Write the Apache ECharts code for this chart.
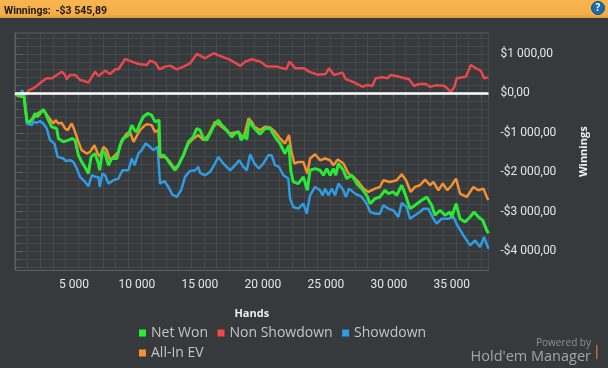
<!DOCTYPE html>
<html>
<head>
<meta charset="utf-8">
<style>html,body{margin:0;padding:0;background:#373a3d}#box1{width:608px;height:368px}</style>
<script src="https://cdn.jsdelivr.net/npm/echarts@6/dist/echarts.min.js"></script>
</head>
<body>
<div id="box1"></div>
<script>
// values: hands / dollars for each line
var netWonHands = [0,240,560,740,800,950,1110,1325,1590,1775,1990,2250,2440,2650,2915,3310,3445,3840,4240,4560,4770,5035,5300,5620,5830,6040,6360,6625,6730,6940,7155,7420,7685,8080,8350,8610,9010,9275,9490,9660,9925,10190,10535,10850,11120,11435,11515,11780,12045,12310,12710,12975,13370,13770,14165,14430,14695,14960,15225,15490,15755,16150,16420,16815,17210,17480,17745,17955,18270,18405,18590,18800,19015,19455,19850,20250,20645,21045,21440,21760,21890,22100,22500,22900,23215,23430,23825,24225,24490,24755,25020,25285,25470,25680,26080,26340,26740,27140,27535,27930,28200,28585,28980,29380,29645,30040,30310,30705,30970,31367,31765,32295,32690,33090,33355,33750,34150,34545,34680,35025,35340,35740,36135,36455,36800,37145,37460,37600];
var netWon = [0,-50,-70,-100,-330,-680,-740,-678,-509,-594,-509,-407,-509,-678,-848,-890,-1144,-1229,-1187,-1144,-1187,-1568,-1737,-1906,-2034,-1610,-1525,-1779,-1949,-1441,-1525,-1822,-1652,-1652,-1314,-1144,-1059,-805,-932,-975,-763,-594,-509,-551,-721,-678,-1567,-1567,-1652,-1779,-1949,-1822,-1567,-1229,-1102,-890,-932,-1144,-1186,-1017,-848,-678,-805,-932,-1102,-1017,-975,-1186,-1017,-1169,-678,-805,-890,-1034,-890,-890,-1102,-1271,-1525,-1313,-1949,-2245,-2287,-2118,-2457,-1949,-1906,-1949,-2075,-1906,-2075,-1906,-2075,-1779,-1949,-2160,-2075,-2287,-2414,-2584,-2796,-2668,-2626,-2456,-2541,-2499,-2583,-2329,-2541,-2922,-2837,-2710,-2626,-2837,-3091,-2964,-3091,-3007,-3134,-2795,-3176,-3261,-3134,-3007,-3134,-3219,-3473,-3545];

var allInHands = [0,240,740,800,950,1110,1460,1800,2250,2650,3050,3230,3445,3710,3975,4190,4505,4720,5035,5300,5700,5960,6305,6570,6760,7020,7290,7550,7950,8215,8480,8880,9140,9410,9528,9925,10190,10455,10850,11120,11380,11515,11915,12310,12655,12975,13370,13770,14165,14560,14960,15360,15885,16420,17080,17745,18140,18540,18800,19015,19455,19850,20250,20645,21045,21440,21760,21920,22185,22500,22900,23215,23430,23825,24225,24620,25020,25285,25630,26080,26475,26875,27270,27670,28065,28585,28980,29250,29777,30307,30705,31050,31420,31765,32160,32560,32957,33222,33620,33965,34335,34680,35025,35340,35870,36400,36800,37200,37520,37600];
var allIn = [0,-50,-100,-330,-680,-720,-636,-509,-424,-600,-763,-678,-763,-746,-890,-932,-763,-932,-1229,-1441,-1525,-1483,-1314,-1525,-1610,-1356,-1441,-1695,-1568,-1483,-1187,-1017,-975,-1229,-1271,-932,-848,-780,-805,-975,-932,-1610,-1610,-1737,-1906,-1822,-1567,-1271,-1144,-1059,-1186,-1059,-720,-848,-1017,-975,-1144,-636,-720,-848,-932,-847,-864,-974,-1144,-1271,-1059,-1440,-1779,-1737,-1737,-2033,-1652,-1542,-1694,-1652,-1694,-1821,-1677,-1779,-2033,-2118,-2245,-2414,-2499,-2414,-2372,-2202,-2245,-2202,-2050,-2202,-2499,-2372,-2329,-2185,-2329,-2245,-2456,-2287,-2456,-2329,-2160,-2541,-2626,-2372,-2456,-2414,-2668,-2700];

var showdownHands = [0,240,480,560,660,800,930,1325,1460,1720,1990,2250,2520,2780,3130,3390,3840,4030,4370,4640,4900,5170,5565,5830,6095,6410,6625,6730,6940,7155,7420,7820,8215,8530,9010,9275,9490,9795,10060,10375,10720,10985,11330,11515,11860,12180,12495,12840,13185,13500,13900,14300,14560,14695,15090,15490,15885,16150,16550,17080,17480,17795,18140,18405,18670,19015,19375,19718,20115,20380,20645,20965,21310,21706,21840,22100,22500,22900,23165,23430,23825,24225,24435,24620,24885,25150,25415,25680,26080,26265,26530,27005,27535,27930,28200,28585,28980,29250,29645,30040,30440,30705,31100,31367,31765,32160,32427,32825,33222,33487,33885,34415,34812,35130,35607,36137,36535,36932,37250,37600];
var showdown = [0,-30,-10,80,0,-300,-763,-805,-721,-746,-704,-763,-890,-1187,-1271,-1610,-1652,-1712,-1695,-1737,-1906,-2118,-2245,-2355,-2076,-2118,-2118,-2372,-2034,-2076,-2288,-2203,-2160,-1949,-1949,-1652,-1822,-1525,-1440,-1271,-1356,-1440,-1356,-2288,-2220,-2372,-2567,-2626,-2457,-2118,-1966,-1949,-1864,-2016,-2076,-1991,-1779,-1610,-1779,-1949,-1822,-1695,-1864,-1949,-1542,-1779,-1906,-1779,-1567,-1567,-1821,-1864,-2075,-2160,-2668,-2880,-2922,-2796,-3050,-2584,-2372,-2457,-2584,-2414,-2584,-2414,-2584,-2287,-2457,-2626,-2414,-2541,-2626,-2796,-3007,-3049,-3049,-2837,-2922,-2965,-3134,-2778,-2880,-3176,-3091,-3007,-2922,-2922,-3176,-3303,-3176,-3176,-3134,-3346,-3600,-3854,-3727,-3896,-3642,-3939];

var nonShowdownHands = [0,400,800,1060,1590,2120,2515,2915,3450,3710,3975,4110,4370,4770,5170,5430,5830,6360,6630,7155,7550,7950,8215,8745,9275,9810,10470,10735,11130,11470,11925,12320,12850,13380,13910,14440,15100,15770,16430,17090,17885,18280,18810,19470,20000,20800,21540,21800,22250,22947,23345,24007,24670,24935,25332,26000,26260,26920,27585,27980,28380,28645,29175,29570,29835,30500,31295,31692,32090,32620,32965,33415,34077,34607,34872,35085,35800,36197,36595,36992,37257,37600];
var nonShowdown = [-40,-85,-42,68,152,296,381,381,491,550,466,356,466,466,339,322,271,550,440,576,491,610,610,872,805,745,720,830,779,610,678,703,610,678,762,999,889,1016,932,847,695,805,864,805,678,678,610,805,635,635,550,474,491,635,466,525,364,280,169,212,186,381,406,381,466,423,356,186,237,237,169,203,195,42,152,381,423,720,635,576,381,406];

var xMajorTicks = 5000, xMinorTicks = 1000;
var yMajorValues = [-4000, -3000, -2000, -1000, 0, 1000];
var yMinorValues = [-4400,-4200,-4000,-3800,-3600,-3400,-3200,-3000,-2800,-2600,-2400,-2200,-2000,-1800,-1600,-1400,-1200,-1000,-800,-600,-400,-200,0,200,400,600,800,1000,1200,1400];
var xMax = 37600, yMin = -4490, yMax = 1530;

function pairs(hands, values) {
  return hands.map(function(h, i) {
    return [h, values[i]];
  });
}
function spaced(v) {
  return String(Math.abs(v)).replace(/\B(?=(\d{3})+$)/g, ' ');
}

var chart = echarts.init(document.getElementById('box1'));
var font = '"Open Sans", "Noto Sans", sans-serif';
var narrow = 'Roboto, "Open Sans", sans-serif';
var legendText = { color: '#c4c5c6', fontSize: 14, fontFamily: font };

var option = {
  backgroundColor: '#373a3d',
  animation: false,
  textStyle: { fontFamily: font },
  title: {
    left: 4,
    top: 2,
    padding: 0,
    text: '{a|Winnings:} {b|-$3 545,89}',
    textStyle: {
      rich: {
        a: { fontFamily: narrow, fontSize: 10.5, color: '#1d1a14' },
        b: { fontFamily: narrow, fontSize: 10.5, fontWeight: 'bold', color: '#1d1a14' }
      }
    }
  },
  graphic: [
    { type: 'rect', z: -1, shape: { x: 0, y: 0, width: 608, height: 18 },
      style: { fill: new echarts.graphic.LinearGradient(0, 0, 0, 1, [
        { offset: 0, color: '#f7b550' }, { offset: 0.8, color: '#f4ae48' }, { offset: 1, color: '#d8983f' }]) } },
    { type: 'circle', shape: { cx: 598, cy: 8, r: 6.5 }, style: { fill: '#1b6cb0', stroke: '#0d4c86', lineWidth: 1 } },
    { type: 'text', x: 598, y: 8, style: { text: '?', fill: '#fff', font: 'bold 10px ' + font, align: 'center', verticalAlign: 'middle' } },
    { type: 'text', x: 591, y: 343, style: { text: 'Powered by', fill: '#8f9193', font: '10px ' + font, align: 'right', verticalAlign: 'middle' } },
    { type: 'text', x: 591, y: 357, style: { text: "Hold'em Manager", fill: '#a3a5a7', font: '14.5px ' + font, align: 'right', verticalAlign: 'middle' } },
    { type: 'rect', shape: { x: 596, y: 345, width: 1.5, height: 14 }, style: { fill: '#c2683a' } }
  ],
  legend: [{
    data: ['Net Won', 'Non Showdown', 'Showdown'],
    left: 139, top: 326, padding: 0,
    itemWidth: 7, itemHeight: 7, itemGap: 9.5,
    icon: 'rect', textStyle: legendText
  }, {
    data: ['All-In EV'],
    left: 139, top: 346, padding: 0,
    itemWidth: 7, itemHeight: 7,
    icon: 'rect', textStyle: legendText
  }],
  grid: {
    left: 15, right: 119.5, top: 33, bottom: 97.5,
    show: true,
    borderColor: '#5c5f62',
    borderWidth: 1
  },
  xAxis: [{
    type: 'value', min: 0, max: xMax, interval: xMajorTicks,
    name: 'Hands', nameLocation: 'middle', nameGap: 38,
    nameTextStyle: { color: '#eeeeee', fontWeight: 'bold', fontSize: 11, fontFamily: font },
    axisLine: { lineStyle: { color: '#5c5f62', width: 1 } },
    axisTick: { show: false },
    splitLine: { show: true, lineStyle: { color: '#5c5f62', width: 1 } },
    axisLabel: {
      color: '#e4e4e4', fontSize: 12, margin: 8, fontFamily: narrow,
      padding: [0, 8, 0, 0],
      showMinLabel: false, showMaxLabel: false,
      formatter: function(v) { return v % xMajorTicks === 0 && v > 0 ? spaced(v) : ''; }
    }
  }, {
    type: 'value', min: 0, max: xMax, interval: xMinorTicks, position: 'bottom',
    axisLine: { show: false },
    axisLabel: { show: false },
    axisTick: { show: true, length: 4, lineStyle: { color: '#5c5f62' } },
    splitLine: { show: true, lineStyle: { color: '#46494c', width: 1 } }
  }],
  yAxis: [{
    type: 'value', min: yMin, max: yMax, position: 'right',
    name: 'Winnings', nameLocation: 'middle', nameGap: 90, nameRotate: 90,
    nameTextStyle: { color: '#eeeeee', fontWeight: 'bold', fontSize: 11, fontFamily: font },
    axisLine: { show: true, lineStyle: { color: '#5c5f62', width: 1 } },
    axisTick: { show: true, length: 8, customValues: yMajorValues, lineStyle: { color: '#5c5f62' } },
    splitLine: { show: true, lineStyle: { color: '#505356', width: 1 } },
    axisLabel: {
      color: '#e4e4e4', fontSize: 12, margin: 12, align: 'left', fontFamily: narrow,
      padding: [0, 0, 3, 0],
      customValues: yMajorValues,
      formatter: function(v) {
        return (v < 0 ? '-$' : '$') + spaced(v) + ',00';
      }
    }
  }, {
    type: 'value', min: yMin, max: yMax, position: 'right',
    axisLine: { show: false },
    axisLabel: { show: false },
    axisTick: { show: true, length: 4, customValues: yMinorValues, lineStyle: { color: '#5c5f62' } },
    splitLine: { show: true, lineStyle: { color: '#46494c', width: 1 } }
  }],
  series: [{
    name: 'Non Showdown', type: 'line', showSymbol: false, symbol: 'rect',
    lineStyle: { width: 2.5, color: '#e8484c' }, itemStyle: { color: '#f5494d' },
    data: pairs(nonShowdownHands, nonShowdown),
    markLine: {
      silent: true, symbol: 'none', label: { show: false },
      lineStyle: { color: '#ffffff', width: 2.5, type: 'solid' },
      data: [{ yAxis: 0 }]
    }
  }, {
    name: 'Showdown', type: 'line', showSymbol: false, symbol: 'rect',
    lineStyle: { width: 2.5, color: '#2f9be0' }, itemStyle: { color: '#2f9be0' },
    data: pairs(showdownHands, showdown)
  }, {
    name: 'All-In EV', type: 'line', showSymbol: false, symbol: 'rect',
    lineStyle: { width: 2.5, color: '#f5902f' }, itemStyle: { color: '#f5902f' },
    data: pairs(allInHands, allIn)
  }, {
    name: 'Net Won', type: 'line', showSymbol: false, symbol: 'rect',
    lineStyle: { width: 3, color: '#2ae835' }, itemStyle: { color: '#2aee35' },
    data: pairs(netWonHands, netWon)
  }]
};
chart.setOption(option);
</script>
</body>
</html>
